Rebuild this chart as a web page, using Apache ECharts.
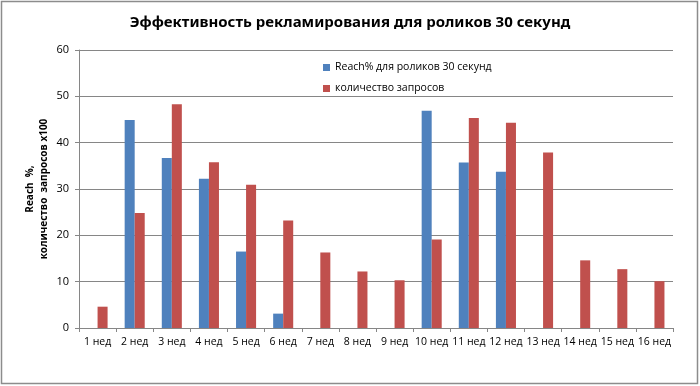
<!DOCTYPE html>
<html><head><meta charset="utf-8">
<script src="https://cdn.jsdelivr.net/npm/echarts@6/dist/echarts.min.js"></script>
<style>html,body{margin:0;padding:0;background:#fff}#c{width:700px;height:386px}</style>
</head><body><div id="c"></div>
<script>
const categories = ['1 нед','2 нед','3 нед','4 нед','5 нед','6 нед','7 нед','8 нед','9 нед','10 нед','11 нед','12 нед','13 нед','14 нед','15 нед','16 нед'];
const reach = [null,44.9,36.7,32.2,16.5,3.1,null,null,null,46.9,35.7,33.7,null,null,null,null];
const requests = [4.6,24.8,48.3,35.8,30.9,23.2,16.3,12.2,10.3,19.1,45.3,44.3,37.9,14.6,12.7,10.1];
const seriesNames = ['Reach% для роликов 30 секунд','количество запросов'];
const yTicks = {min:0,max:60,interval:10};

const font = '"Open Sans", "DejaVu Sans", sans-serif';
const chart = echarts.init(document.getElementById('c'));
chart.setOption({
  animation:false,
  title:{text:'Эффективность рекламирования для роликов 30 секунд',left:'center',top:10,
    textStyle:{fontFamily:'"Noto Sans", sans-serif',fontSize:15,fontWeight:'bold',color:'#000'}},
  graphic:[{type:'rect',shape:{x:1.5,y:1.5,width:696,height:382},style:{fill:null,stroke:'#8c8c8c',lineWidth:1.5},silent:true}],
  legend:{orient:'vertical',left:318,top:57,itemGap:10,itemWidth:7,itemHeight:7,icon:'rect',
    textStyle:{fontFamily:font,fontSize:10.5,color:'#000'}},
  grid:{left:79,right:27,top:50,bottom:58},
  xAxis:{type:'category',data:categories,
    axisLine:{lineStyle:{color:'#868686'}},
    axisTick:{show:true,alignWithLabel:false,length:4,lineStyle:{color:'#868686'}},
    axisLabel:{fontFamily:font,fontSize:10.5,color:'#000',margin:9,interval:0}},
  yAxis:{type:'value',min:yTicks.min,max:yTicks.max,interval:yTicks.interval,
    name:'Reach  %,\nколичество  запросов х100',nameLocation:'middle',nameGap:28,nameRotate:90,nameMoveOverlap:false,
    nameTextStyle:{fontFamily:font,fontSize:10,fontWeight:'bold',color:'#000',lineHeight:14},
    axisLine:{show:true,lineStyle:{color:'#868686'}},
    axisTick:{show:true,length:4,lineStyle:{color:'#868686'}},
    splitLine:{lineStyle:{color:'#868686'}},
    axisLabel:{fontFamily:font,fontSize:11,color:'#000',margin:10}},
  series:[
    {name:seriesNames[0],type:'bar',data:reach,barGap:'0%',barCategoryGap:'46%',itemStyle:{color:'#4F81BD'}},
    {name:seriesNames[1],type:'bar',data:requests,itemStyle:{color:'#C0504D'}}
  ]
});
</script></body></html>
